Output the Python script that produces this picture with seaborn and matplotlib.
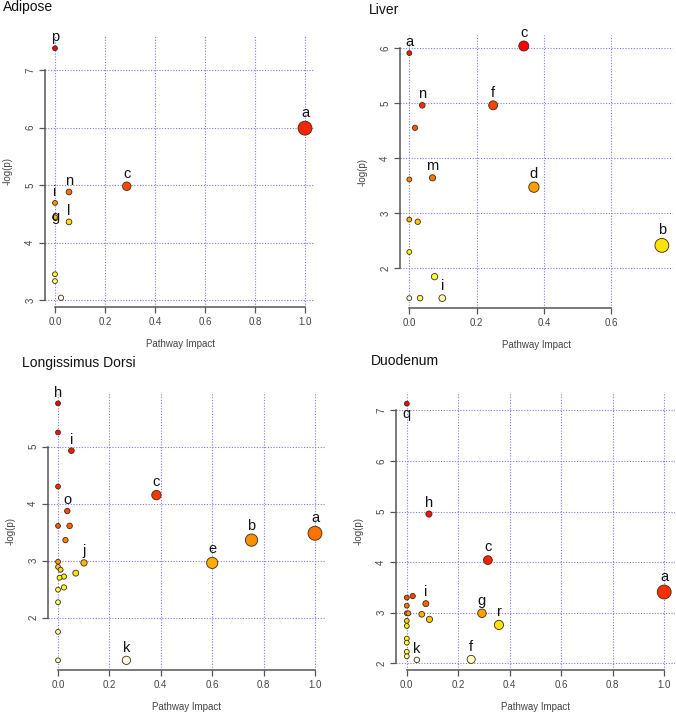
import numpy as np
import pandas as pd
import matplotlib
matplotlib.use("Agg")
import matplotlib.pyplot as plt
import seaborn as sns
from matplotlib.colors import LinearSegmentedColormap

# ---- data (impact, -log(p), label) ----
adipose_x = [0.0, 1.0, 0.287, 0.056, 0.0, 0.0, 0.056, 0.0, 0.0, 0.024]
adipose_y = [7.38, 5.99, 4.98, 4.88, 4.69, 4.44, 4.36, 3.45, 3.33, 3.04]
adipose_lab = ["p", "a", "c", "n", "i", "g", "l", "", "", ""]

liver_x = [0.0, 0.34, 0.0385, 0.249, 0.017, 0.069, 0.0, 0.37, 0.0, 0.025,
           0.0, 0.75, 0.075, 0.032, 0.098, 0.0]
liver_y = [5.91, 6.04, 4.96, 4.96, 4.55, 3.64, 3.61, 3.47, 2.88, 2.84,
           2.29, 2.41, 1.84, 1.45, 1.45, 1.45]
liver_lab = ["a", "c", "n", "f", "", "m", "", "d", "", "",
             "", "b", "", "", "i", ""]

ld_x = [0.0, 0.0, 0.052, 0.0, 0.383, 0.036, 0.0, 0.045, 0.029, 1.0,
        0.753, 0.6, 0.101, 0.0, 0.0, 0.01, 0.069, 0.023, 0.006, 0.023,
        0.0, 0.0, 0.0, 0.0, 0.266]
ld_y = [5.76, 5.25, 4.93, 4.30, 4.15, 3.87, 3.61, 3.61, 3.36, 3.48,
        3.36, 2.96, 2.96, 2.98, 2.89, 2.84, 2.78, 2.72, 2.70, 2.53,
        2.49, 2.27, 1.75, 1.25, 1.25]
ld_lab = ["h", "", "i", "", "c", "o", "", "", "", "a",
          "b", "e", "j", "", "", "", "", "", "", "",
          "", "", "", "", "k"]

duo_x = [0.0, 0.086, 0.315, 1.0, 0.023, 0.0, 0.074, 0.0, 0.0, 0.006,
         0.058, 0.292, 0.088, 0.358, 0.0, 0.0, 0.0, 0.0, 0.0, 0.0,
         0.039, 0.25]
duo_y = [7.13, 4.95, 4.04, 3.41, 3.33, 3.30, 3.18, 3.14, 2.99, 2.99,
         2.97, 2.99, 2.87, 2.76, 2.84, 2.74, 2.49, 2.41, 2.23, 2.14,
         2.07, 2.08]
duo_lab = ["q", "h", "c", "a", "", "", "i", "", "", "",
           "", "g", "", "r", "", "", "", "", "", "",
           "k", "f"]

W, H = 676, 714
fig = plt.figure(figsize=(W / 100, H / 100), dpi=100)
plt.rcParams["font.family"] = ["Liberation Sans", "DejaVu Sans"]

# R heat.colors-like palette, indexed by rank of -log(p)
heat = LinearSegmentedColormap.from_list(
    "heat", [(0, "#ff0000"), (0.375, "#ff8000"), (0.75, "#ffff00"), (1.0, "#ffffe8")])

SMIN, SMAX = 12, 100

panels = [
    # title, x, y, labels, axes box px (l, r, t, b), xlim, ylim, xticks, yticks, title pos
    ("Adipose", adipose_x, adipose_y, adipose_lab, (45, 315, 35, 307),
     (-0.04, 1.04), (2.88, 7.61), [0, 0.2, 0.4, 0.6, 0.8, 1.0], [3, 4, 5, 6, 7], (3, 7)),
    ("Liver", liver_x, liver_y, liver_lab, (400, 673, 35, 308),
     (-0.0276, 0.783), (1.27, 6.24), [0, 0.2, 0.4, 0.6], [2, 3, 4, 5, 6], (369, 10)),
    ("Longissimus Dorsi", ld_x, ld_y, ld_lab, (48, 325, 392, 670),
     (-0.039, 1.039), (1.08, 5.96), [0, 0.2, 0.4, 0.6, 0.8, 1.0], [2, 3, 4, 5], (22, 363)),
    ("Duodenum", duo_x, duo_y, duo_lab, (396, 675, 392, 670),
     (-0.042, 1.042), (1.87, 7.36), [0, 0.2, 0.4, 0.6, 0.8, 1.0], [2, 3, 4, 5, 6, 7], (371, 361)),
]

special_dy = {("Adipose", "g"): 0.0, ("Duodenum", "q"): -1.0}

for title, xs, ys, labs, box, xlim, ylim, xt, yt, tpos in panels:
    l, r, t, b = box
    ax = fig.add_axes([l / W, 1 - b / H, (r - l) / W, (b - t) / H])
    df = pd.DataFrame({"impact": xs, "logp": ys, "label": labs})
    df["rank"] = df["logp"].rank(ascending=False, method="first") - 1
    xmax = df["impact"].max()

    sns.scatterplot(data=df, x="impact", y="logp", hue="rank", size="impact",
                    palette=heat, hue_norm=(0, len(df) - 1),
                    sizes=(SMIN, SMAX), size_norm=(0, xmax),
                    edgecolor="#3a2a1a", linewidth=0.6, legend=False,
                    ax=ax, zorder=3, clip_on=False)

    for _, row in df.iterrows():
        if not row["label"]:
            continue
        s = SMIN + (SMAX - SMIN) * row["impact"] / xmax
        rad = np.sqrt(s) / 2
        k = special_dy.get((title, row["label"]), 1.0)
        ax.annotate(row["label"], (row["impact"], row["logp"]),
                    xytext=(0, k * (rad + 6)), textcoords="offset points",
                    ha="center", va="center", fontsize=10.5, color="#111111",
                    zorder=4, annotation_clip=False)

    ax.set_xlim(*xlim)
    ax.set_ylim(*ylim)
    ax.set_xticks(xt)
    ax.set_xticklabels([f"{v:.1f}" for v in xt])
    ax.set_yticks(yt)
    ax.set_yticklabels([str(v) for v in yt], rotation=90, va="center")
    ax.grid(True, color="#7c7ce6", linestyle=(0, (1, 1.5)), linewidth=0.8)
    ax.set_axisbelow(True)
    for side in ["top", "right"]:
        ax.spines[side].set_visible(False)
    ax.spines["left"].set_bounds(yt[0], yt[-1])
    ax.spines["bottom"].set_bounds(xt[0], xt[-1])
    for side in ["left", "bottom"]:
        ax.spines[side].set_color("#555555")
        ax.spines[side].set_linewidth(1.1)
    ax.tick_params(direction="out", length=4, width=0.9, color="#555555",
                   labelsize=7, labelcolor="#444444", pad=3)
    ax.set_xlabel("Pathway Impact", fontsize=7, color="#444444", labelpad=9)
    ax.set_ylabel("-log(p)", fontsize=7, color="#444444", labelpad=9)
    ax.set_facecolor("white")

    fig.text(tpos[0] / W, 1 - tpos[1] / H, title, fontsize=10,
             ha="left", va="center", color="#111111")

fig.savefig("out.png", dpi=100)
